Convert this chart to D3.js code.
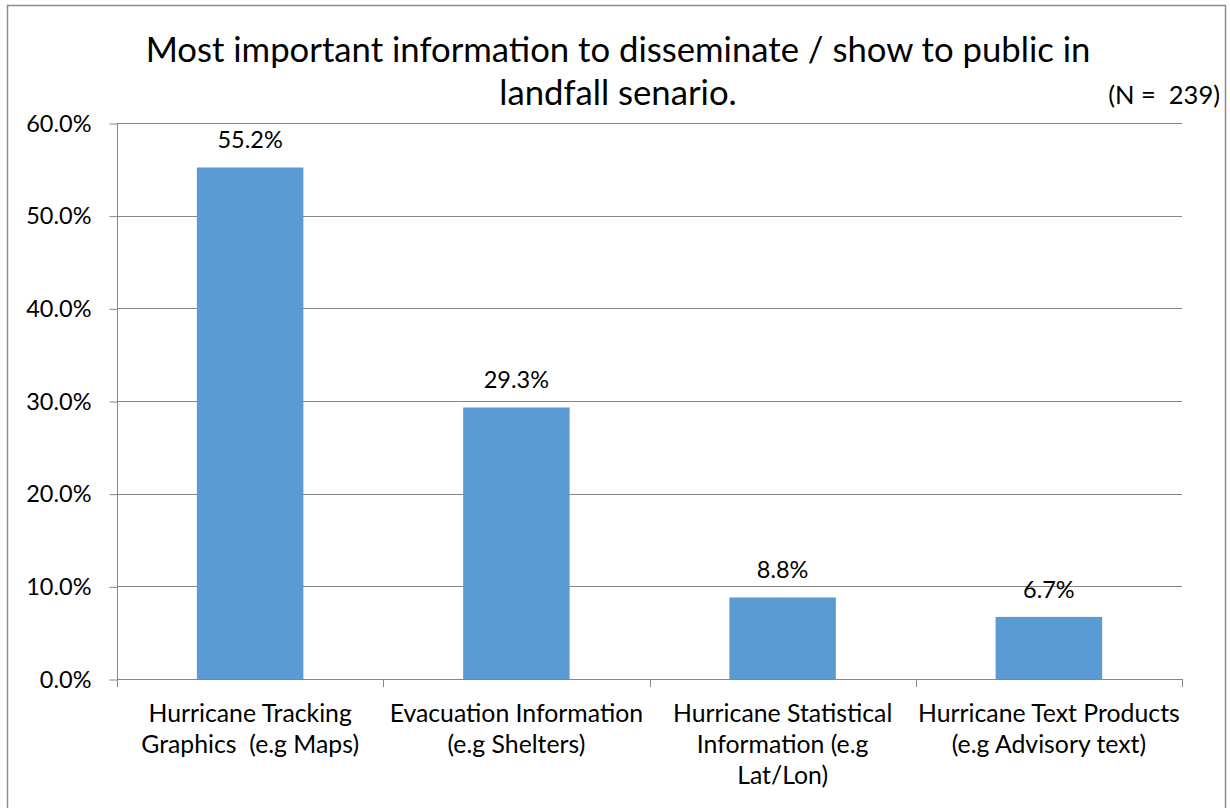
<!DOCTYPE html>
<html>
<head>
<meta charset="utf-8">
<script src="https://cdn.jsdelivr.net/npm/d3@7"></script>
<style>
  html, body { margin: 0; padding: 0; background: #fff; }
  svg { display: block; font-family: Lato, "Open Sans", sans-serif; }
</style>
</head>
<body>
<svg id="chart" width="1230" height="808"></svg>
<script>
const categories = [
  ["Hurricane Tracking", "Graphics  (e.g Maps)"],
  ["Evacuation Information", "(e.g Shelters)"],
  ["Hurricane Statistical", "Information (e.g", "Lat/Lon)"],
  ["Hurricane Text Products", "(e.g Advisory text)"]
];
const values = [55.2, 29.3, 8.8, 6.7];
const yTicks = [0, 10, 20, 30, 40, 50, 60];
const titleLines = ["Most important information to disseminate / show to public in", "landfall senario."];
const noteText = "(N =  239)";

const svg = d3.select("#chart");
const m = { left: 117, right: 1182, top: 123, bottom: 679 };
const gridColor = "#868686";

// outer border
svg.append("rect").attr("x", 7.5).attr("y", 5.5).attr("width", 1218).attr("height", 810)
  .attr("fill", "#fff").attr("stroke", "#8c8c8c").attr("stroke-width", 1.5);

const idx = categories.map((d, i) => i);
const x = d3.scaleBand().domain(idx).range([m.left, m.right]).paddingInner(0).paddingOuter(0);
const y = d3.scaleLinear().domain([0, 60]).range([m.bottom, m.top]);

// gridlines
svg.append("g").selectAll("line").data(yTicks.filter(t => t > 0)).join("line")
  .attr("x1", m.left).attr("x2", m.right)
  .attr("y1", d => Math.round(y(d)) + 0.5).attr("y2", d => Math.round(y(d)) + 0.5)
  .attr("stroke", gridColor).attr("stroke-width", 1);

// y axis
const yAxis = d3.axisLeft(y).tickValues(yTicks).tickSize(8).tickPadding(18)
  .tickFormat(d => d.toFixed(1) + "%");
const gy = svg.append("g").attr("transform", `translate(${m.left + 0.5},0.5)`).call(yAxis);
gy.selectAll("path, line").attr("stroke", gridColor);
gy.select(".domain").attr("d", `M0,${m.top}V${m.bottom}`);
gy.selectAll("text").attr("font-size", 23.5).attr("fill", "#000").attr("font-family", "Lato, sans-serif");

// bars
const barW = x.bandwidth() * 0.4;
svg.append("g").selectAll("rect").data(values).join("rect")
  .attr("x", (d, i) => x(i) + (x.bandwidth() - barW) / 2)
  .attr("width", barW)
  .attr("y", d => y(d))
  .attr("height", d => m.bottom - y(d))
  .attr("fill", "#5B9BD5");

// x axis
svg.append("line").attr("x1", m.left).attr("x2", m.right)
  .attr("y1", m.bottom + 0.5).attr("y2", m.bottom + 0.5).attr("stroke", gridColor);
const bounds = idx.map(i => x(i)).concat([m.right]);
svg.append("g").selectAll("line").data(bounds).join("line")
  .attr("x1", d => Math.round(d) + 0.5).attr("x2", d => Math.round(d) + 0.5)
  .attr("y1", m.bottom).attr("y2", m.bottom + 8).attr("stroke", gridColor);

// value labels
svg.append("g").selectAll("text").data(values).join("text")
  .attr("x", (d, i) => x(i) + x.bandwidth() / 2)
  .attr("y", d => y(d) - 19)
  .attr("text-anchor", "middle").attr("font-size", 23.5).attr("fill", "#000")
  .text(d => d.toFixed(1) + "%");

// category labels
const cl = svg.append("g").selectAll("text").data(categories).join("text")
  .attr("text-anchor", "middle").attr("font-size", 24.8).attr("fill", "#000")
  .attr("transform", (d, i) => `translate(${x(i) + x.bandwidth() / 2},722)`);
cl.selectAll("tspan").data(d => d).join("tspan")
  .attr("x", 0).attr("y", (d, j) => j * 31).style("white-space", "pre").text(d => d);

// title
svg.append("g").selectAll("text").data(titleLines).join("text")
  .attr("x", 618).attr("y", (d, i) => 62 + i * 43)
  .attr("text-anchor", "middle").attr("font-size", 34.7).attr("fill", "#000")
  .text(d => d);

svg.append("text").attr("x", 1220).attr("y", 104).attr("text-anchor", "end")
  .attr("font-size", 25.5).attr("fill", "#000").style("white-space", "pre").text(noteText);
</script>
</body>
</html>
